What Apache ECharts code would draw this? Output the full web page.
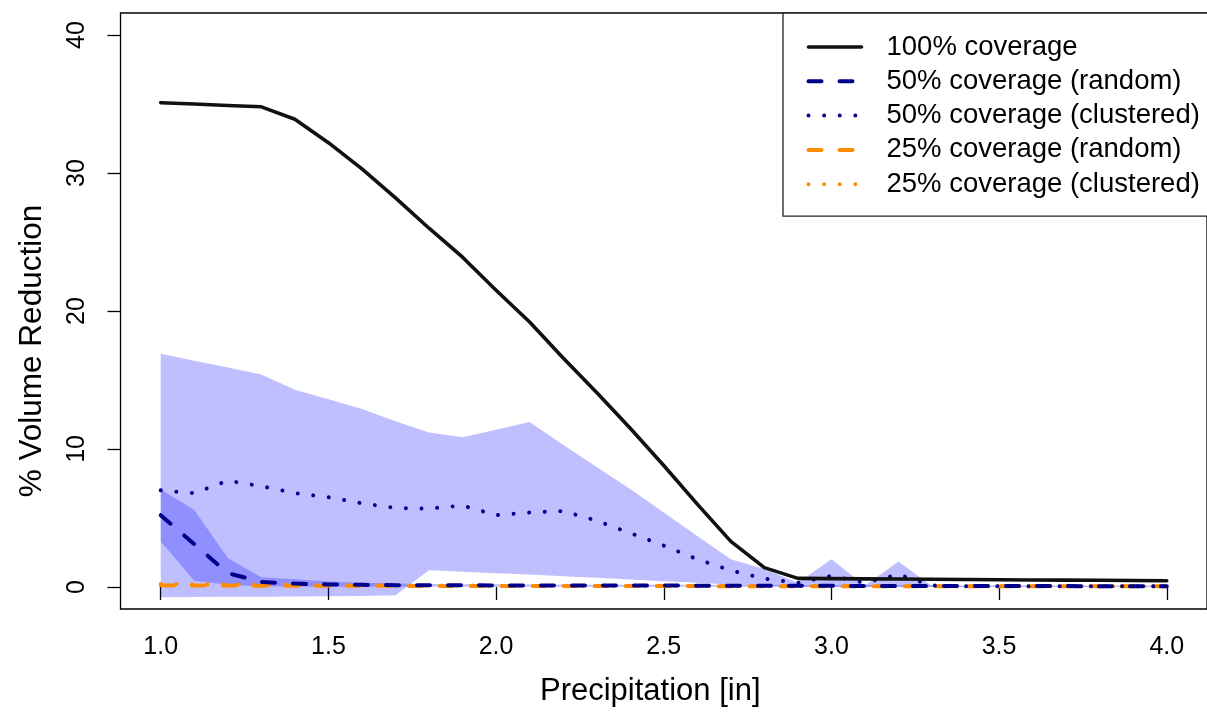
<!DOCTYPE html>
<html>
<head>
<meta charset="utf-8">
<title>% Volume Reduction vs Precipitation</title>
<script src="https://cdn.jsdelivr.net/npm/echarts@6/dist/echarts.min.js"></script>
<style>
  html, body { margin: 0; padding: 0; background: #fff; }
  #chart { width: 1207px; height: 712px; }
</style>
</head>
<body>
<div id="chart"></div>
<script>
// Storm depth (inches)
const precip = [1.0, 1.1, 1.2, 1.3, 1.4, 1.5, 1.6, 1.7, 1.8, 1.9,
                2.0, 2.1, 2.2, 2.3, 2.4, 2.5, 2.6, 2.7, 2.8, 2.9,
                3.0, 3.1, 3.2, 3.3, 3.4, 3.5, 3.6, 3.7, 3.8, 3.9, 4.0];

// 100% coverage
const cover100 = [35.1, 35.0, 34.9, 34.8, 33.9, 32.2, 30.3, 28.2, 26.0, 23.9,
                  21.5, 19.2, 16.6, 14.1, 11.5, 8.8, 6.0, 3.3, 1.4, 0.62,
                  0.6, 0.58, 0.57, 0.56, 0.54, 0.52, 0.5, 0.49, 0.48, 0.47, 0.45];

// 50% coverage, random placement: mean and min/max range
const random50 = [5.2, 3.1, 1.0, 0.36, 0.24, 0.18, 0.15, 0.13, 0.12, 0.12,
                  0.11, 0.11, 0.1, 0.1, 0.1, 0.1, 0.09, 0.09, 0.09, 0.08,
                  0.08, 0.07, 0.07, 0.07, 0.06, 0.06, 0.06, 0.06, 0.05, 0.05, 0.05];
const random50Lo = [3.3, 0.45, 0.15, 0.05, 0.03, 0.02, 0.02, 0.02, 0.02, 0.02,
                    0.02, 0.02, 0.02, 0.02, 0.02, 0.02, 0.02, 0.02, 0.02, 0.02,
                    0.01, 0.01, 0.01, 0.01, 0.01, 0.01, 0.01, 0.01, 0.01, 0.01, 0.01];
const random50Hi = [7.07, 5.57, 2.1, 0.7, 0.55, 0.4, 0.3, 0.25, 0.22, 0.2,
                    0.19, 0.18, 0.17, 0.16, 0.16, 0.15, 0.15, 0.14, 0.14, 0.13,
                    0.13, 0.12, 0.12, 0.12, 0.11, 0.11, 0.11, 0.1, 0.1, 0.1, 0.1];

// 50% coverage, clustered placement: mean and min/max range
const clustered50 = [7.0, 6.8, 7.7, 7.3, 6.8, 6.5, 6.06, 5.72, 5.68, 5.9,
                     5.2, 5.4, 5.5, 4.8, 3.9, 3.0, 2.0, 1.2, 0.6, 0.3,
                     0.8, 0.3, 0.9, 0.1, 0.05, 0.05, 0.05, 0.05, 0.05, 0.05, 0.05];
const clustered50Lo = [-0.74, -0.73, -0.72, -0.71, -0.7, -0.68, -0.66, -0.6, 1.2, 1.1,
                       1.0, 0.9, 0.78, 0.66, 0.54, 0.42, 0.3, 0.18, 0.08, 0.02,
                       0.0, 0.0, 0.0, 0.0, 0.0, 0.0, 0.0, 0.0, 0.0, 0.0, 0.0];
const clustered50Hi = [16.9, 16.4, 15.9, 15.4, 14.3, 13.6, 12.9, 12.0, 11.2, 10.85,
                       11.4, 11.95, 10.3, 8.7, 7.1, 5.4, 3.7, 2.0, 1.3, 0.3,
                       2.0, 0.1, 1.85, 0.05, 0.03, 0.03, 0.03, 0.03, 0.03, 0.03, 0.03];

// 25% coverage
const random25 = [0.12, 0.1, 0.1, 0.09, 0.09, 0.08, 0.08, 0.08, 0.07, 0.07,
                  0.07, 0.07, 0.06, 0.06, 0.06, 0.06, 0.06, 0.05, 0.05, 0.05,
                  0.05, 0.05, 0.05, 0.04, 0.04, 0.04, 0.04, 0.04, 0.04, 0.04, 0.04];
const clustered25 = [0.22, 0.2, 0.2, 0.18, 0.16, 0.14, 0.12, 0.11, 0.1, 0.1,
                     0.09, 0.09, 0.09, 0.08, 0.08, 0.08, 0.07, 0.07, 0.07, 0.06,
                     0.06, 0.06, 0.06, 0.05, 0.05, 0.05, 0.05, 0.05, 0.05, 0.05, 0.05];

// Axis tick labels
const xTicks = [1.0, 1.5, 2.0, 2.5, 3.0, 3.5, 4.0];
const yTicks = [0, 10, 20, 30, 40];

const NAMES = ['100% coverage', '50% coverage (random)', '50% coverage (clustered)',
               '25% coverage (random)', '25% coverage (clustered)'];

const pts = ys => precip.map((x, i) => [x, ys[i]]);

const FONT = '"Liberation Sans", Arial, Helvetica, sans-serif';
const NAVY = '#00008B';
const ORANGE = '#FF8C00';
const DASH = [13, 18];
const DOT = [0.01, 15.6];

function curve(name, ys, color, width, dash) {
  return {
    name: name, type: 'line', data: pts(ys), symbol: 'none', silent: true,
    lineStyle: { color: color, width: width, type: dash || 'solid', cap: 'round', join: 'round' },
    itemStyle: { color: color }
  };
}

// Min/max envelope drawn as one translucent polygon in data coordinates
function band(id, lo, hi, color) {
  return {
    name: id, type: 'custom', silent: true,
    data: precip.map((x, i) => [x, lo[i], hi[i]]),
    encode: { x: 0, y: [1, 2] },
    renderItem: function (params, api) {
      if (params.dataIndex !== 0) return null;
      const upper = precip.map((x, i) => api.coord([x, hi[i]]));
      const lower = precip.map((x, i) => api.coord([x, lo[i]])).reverse();
      return {
        type: 'polygon',
        shape: { points: upper.concat(lower) },
        style: { fill: color, stroke: null }
      };
    }
  };
}

const chart = echarts.init(document.getElementById('chart'), null, { renderer: 'canvas' });

chart.setOption({
  animation: false,
  backgroundColor: '#ffffff',
  textStyle: { fontFamily: FONT },
  grid: {
    left: 120.5, right: -9.6, top: 13, bottom: 101,
    show: true, borderColor: '#000', borderWidth: 1.3, backgroundColor: 'transparent'
  },
  xAxis: {
    type: 'value', min: 0.88, max: 4.12,
    name: 'Precipitation [in]', nameLocation: 'middle', nameGap: 67,
    nameTextStyle: { fontSize: 31, color: '#000', fontFamily: FONT, padding: [0, 27, 0, 0] },
    axisLine: { show: false },
    splitLine: { show: false },
    axisTick: { show: true, customValues: xTicks, length: 13, inside: false,
                lineStyle: { color: '#000', width: 1.3 } },
    axisLabel: { customValues: xTicks, formatter: v => v.toFixed(1), fontSize: 25,
                 color: '#000', margin: 26, fontFamily: FONT }
  },
  yAxis: {
    type: 'value', min: -1.6, max: 41.6,
    name: '% Volume Reduction', nameLocation: 'middle', nameGap: 72,
    nameTextStyle: { fontSize: 31.5, color: '#000', fontFamily: FONT, padding: [0, 80, 0, 0] },
    axisLine: { show: false },
    splitLine: { show: false },
    axisTick: { show: true, customValues: yTicks, length: 13, inside: false,
                lineStyle: { color: '#000', width: 1.3 } },
    axisLabel: { customValues: yTicks, rotate: 90, fontSize: 25, color: '#000',
                 margin: 31, fontFamily: FONT }
  },
  legend: {
    data: NAMES,
    orient: 'vertical', left: 783, top: 13,
    padding: [17, 30, 15, 23.5],
    itemGap: 0.3, itemWidth: 53, itemHeight: 10,
    borderColor: '#222', borderWidth: 1.3, backgroundColor: '#fff',
    lineStyle: { width: 'inherit' },
    itemStyle: { opacity: 0 },
    textStyle: { fontSize: 27.5, color: '#000', lineHeight: 34, fontFamily: FONT,
                 padding: [0, 0, 0, 20] },
    selectedMode: false
  },
  series: [
    // orange curves sit beneath the translucent envelopes
    curve(NAMES[3], random25, ORANGE, 4, DASH),
    curve(NAMES[4], clustered25, ORANGE, 4, DOT),
    band('clustered50 range', clustered50Lo, clustered50Hi, 'rgba(0,0,255,0.25)'),
    band('random50 range', random50Lo, random50Hi, 'rgba(0,0,255,0.25)'),
    curve(NAMES[1], random50, NAVY, 4, DASH),
    curve(NAMES[2], clustered50, NAVY, 4, DOT),
    curve(NAMES[0], cover100, '#111', 3.6)
  ]
});
</script>
</body>
</html>
